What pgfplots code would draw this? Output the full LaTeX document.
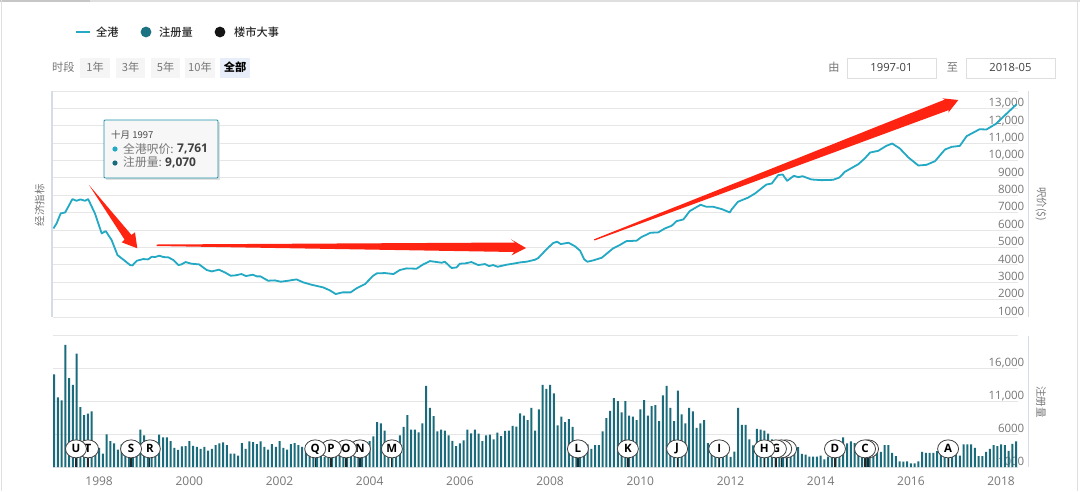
\documentclass[border=0pt]{standalone}
\usepackage{pgfplots}
\pgfplotsset{compat=1.18}
\usepackage{fontspec}
\usetikzlibrary{shapes.geometric}
\setmainfont{Open Sans}
\newfontfamily\cjk{Noto Sans CJK SC}
\newfontfamily\cjkm{Noto Sans CJK SC Medium}
\definecolor{lineC}{HTML}{23A9C4}
\definecolor{barC}{HTML}{1A6C7C}
\definecolor{gridC}{HTML}{E6E6E6}
\definecolor{axisC}{HTML}{D5DCE8}
\definecolor{txtC}{HTML}{777777}
\definecolor{arrC}{HTML}{FF2412}
\definecolor{selC}{HTML}{E7EEF9}
\begin{document}
\begin{tikzpicture}
\begin{scope}[x=1pt,y=-1pt]
\path[use as bounding box] (0,0) rectangle (1080,491);
\fill[white] (0,0) rectangle (1080,491);
\fill[gray!25] (0,0) rectangle (1080,2);
\fill[gray!45] (0,0) rectangle (90,2);
\draw[gray!25,line width=1pt] (1.5,0) -- (1.5,491);
\draw[gray!25,line width=1pt] (1077.5,0) -- (1077.5,491);
\end{scope}
% main chart
\begin{axis}[
 at={(53pt,-317pt)},anchor=south west,
 scale only axis,width=965pt,height=226pt,
 xmin=1996.98,xmax=2018.38,ymin=1000,ymax=14000,
 axis line style={draw=none},major tick length=0pt,
 xtick=\empty,scaled y ticks=false,scaled x ticks=false,
 ytick={1000,2000,3000,4000,5000,6000,7000,8000,9000,10000,11000,12000,13000,14000},
 yticklabels={1000,2000,3000,4000,5000,6000,7000,8000,9000,{10,000},{11,000},{12,000},{13,000},},
 ymajorgrids,grid style={gridC,line width=0.9pt},
 ticklabel pos=right,
 yticklabel style={anchor=east,inner sep=0pt,text height=8.5pt,text depth=0pt,xshift=6.5pt,yshift=6pt,font=\fontsize{11.5}{12}\selectfont,text=txtC},
]
\addplot[lineC,line width=1.8pt,line join=round] coordinates {
(1996.99,6096)(1997.06,6383)(1997.15,6958)(1997.25,7015)(1997.41,7782)(1997.50,7686)(1997.59,7763)(1997.69,7686)(1997.76,7782)(1997.91,6958)
(1998.06,5808)(1998.15,5943)(1998.28,5425)(1998.41,4563)(1998.58,4218)(1998.69,3988)(1998.74,3969)(1998.84,4237)(1998.98,4333)
(1999.09,4314)(1999.17,4467)(1999.24,4448)(1999.34,4525)(1999.43,4448)(1999.54,4429)(1999.65,4276)(1999.76,3988)(1999.83,4027)(1999.92,4161)
(2000.05,4065)(2000.22,4027)(2000.39,3701)(2000.50,3624)(2000.66,3720)(2000.79,3567)(2000.92,3375)
(2001.02,3394)(2001.16,3471)(2001.26,3356)(2001.41,3433)(2001.50,3337)(2001.58,3337)(2001.75,3088)(2001.90,3107)
(2002.03,3030)(2002.20,3088)(2002.38,3164)(2002.53,2992)(2002.71,2858)(2002.97,2704)
(2003.12,2532)(2003.25,2321)(2003.40,2417)(2003.58,2417)(2003.71,2647)(2003.90,2896)
(2004.08,3375)(2004.16,3509)(2004.34,3528)(2004.53,3471)(2004.67,3701)(2004.82,3797)
(2005.04,3777)(2005.19,4027)(2005.34,4218)(2005.49,4161)(2005.60,4122)(2005.67,4180)(2005.82,3816)(2005.93,3854)
(2006.00,4065)(2006.12,4084)(2006.26,4161)(2006.41,3988)(2006.56,4046)(2006.65,3931)(2006.74,3988)(2006.84,3892)
(2007.04,4008)(2007.22,4084)(2007.34,4142)(2007.48,4180)(2007.67,4295)(2007.74,4391)(2007.93,4908)
(2008.07,5253)(2008.16,5330)(2008.24,5195)(2008.41,5272)(2008.55,5080)(2008.67,4812)(2008.76,4314)(2008.83,4180)(2008.96,4257)
(2009.15,4410)(2009.40,4946)(2009.52,5099)(2009.70,5368)(2009.92,5387)
(2010.03,5598)(2010.23,5847)(2010.40,5866)(2010.55,6096)(2010.70,6249)(2010.81,6517)(2010.96,6613)
(2011.10,7092)(2011.34,7456)(2011.47,7341)(2011.62,7341)(2011.81,7207)(2011.99,7015)
(2012.03,7190)(2012.17,7630)(2012.39,7860)(2012.55,8110)(2012.80,8620)(2012.92,8680)
(2013.06,9160)(2013.16,9200)(2013.26,8833)(2013.41,9121)(2013.51,9044)(2013.60,9102)(2013.80,8910)
(2014.02,8872)(2014.28,8891)(2014.42,9025)(2014.54,9351)(2014.84,9791)(2014.98,10117)
(2015.10,10462)(2015.28,10558)(2015.46,10845)(2015.59,10979)(2015.76,10692)(2015.95,10175)
(2016.17,9715)(2016.35,9753)(2016.54,9964)(2016.76,10634)(2016.91,10788)
(2017.09,10845)(2017.24,11401)(2017.46,11707)(2017.53,11803)(2017.68,11784)(2017.90,12129)
(2018.13,12704)(2018.35,13240)
};
\end{axis}
% lower chart
\begin{axis}[
 at={(53pt,-467pt)},anchor=south west,
 scale only axis,width=965pt,height=132pt,
 xmin=0.73,xmax=257.5,ymin=1000,ymax=21000,
 axis line style={draw=none},major tick length=0pt,
 scaled y ticks=false,scaled x ticks=false,
 xtick={13,37,61,85,109,133,157,181,205,229,253},
 xticklabels={1998,2000,2002,2004,2006,2008,2010,2012,2014,2016,2018},
 xticklabel style={font=\fontsize{12}{12}\selectfont,text=txtC,yshift=-6.5pt},
 ytick={1000,6000,11000,16000,21000},
 yticklabels={1000,6000,{11,000},{16,000},},
 ymajorgrids,grid style={gridC,line width=0.9pt},
 ticklabel pos=right,
 xticklabel pos=bottom,
 yticklabel style={anchor=east,inner sep=0pt,text height=8.5pt,text depth=0pt,xshift=6.5pt,yshift=6pt,font=\fontsize{11.5}{12}\selectfont,text=txtC},
 clip=true,
]
\addplot[ybar,bar width=2pt,fill=barC,draw=none] coordinates {
(1,15025)(2,11557)(3,11098)(4,19513)(5,14464)(6,13444)(7,18187)(8,10078)(9,8854)(10,9070)(11,9415)(12,3142)
(13,3907)(14,3040)(15,5947)(16,4927)(17,4570)(18,3652)(19,4417)(20,4162)(21,3907)(22,4162)(23,4672)(24,6661)
(25,5794)(26,4417)(27,4162)(28,4927)(29,5896)(30,5488)(31,5488)(32,4927)(33,3907)(34,3601)(35,4111)(36,4162)
(37,4927)(38,4213)(39,4060)(40,3754)(41,4060)(42,3499)(43,3754)(44,4315)(45,4570)(46,4723)(47,4315)(48,3040)
(49,3040)(50,2734)(51,4621)(52,3754)(53,4876)(54,4774)(55,4468)(56,4876)(57,4060)(58,3652)(59,4468)(60,4060)
(61,4927)(62,3907)(63,3652)(64,4468)(65,4621)(66,4315)(67,4060)(68,3900)(69,3300)(70,3000)(71,3200)(72,2800)
(73,2500)(74,2900)(75,3100)(76,2700)(77,3000)(78,3200)(79,2900)(80,3300)(81,3400)(82,3600)(83,4200)(84,4400)
(85,4927)(86,5641)(87,7783)(88,7630)(89,6508)(90,4672)(91,4672)(92,4417)(93,5794)(94,7069)(95,8854)(96,6661)
(97,6661)(98,6253)(99,7630)(100,13291)(101,9976)(102,8701)(103,6406)(104,6661)(105,6508)(106,5794)(107,4978)(108,4162)
(109,4570)(110,5029)(111,6661)(112,6100)(113,6661)(114,6049)(115,4927)(116,5794)(117,5896)(118,5182)(119,6202)(120,5692)
(121,6457)(122,6508)(123,7222)(124,7120)(125,9109)(126,8803)(127,8089)(128,9976)(129,6508)(130,9721)(131,13444)(132,12832)
(133,13444)(134,12169)(135,7324)(136,8650)(137,7783)(138,8242)(139,7069)(140,4672)(141,4417)(142,4417)(143,4417)(144,3754)
(145,4315)(146,4315)(147,6406)(148,8395)(149,9517)(150,11455)(151,10996)(152,9262)(153,10996)(154,8803)(155,8650)(156,8089)
(157,9721)(158,11149)(159,8803)(160,10231)(161,10384)(162,7936)(163,11863)(164,13291)(165,9976)(166,7936)(167,12577)(168,8956)
(169,7630)(170,9976)(171,9415)(172,6916)(173,7630)(174,8089)(175,4621)(176,4417)(177,3652)(178,3652)(179,2632)(180,2887)
(181,2530)(182,3346)(183,9976)(184,7375)(185,7375)(186,5182)(187,4264)(188,6763)(189,6661)(190,6508)(191,6049)(192,5182)
(193,4672)(194,4162)(195,4162)(196,4162)(197,3907)(198,3652)(199,4009)(200,2989)(201,2887)(202,2581)(203,2581)(204,2581)
(205,2734)(206,2173)(207,2581)(208,2581)(209,2887)(210,2734)(211,5488)(212,4570)(213,4876)(214,4621)(215,3142)(216,2887)
(217,2632)(218,2734)(219,2887)(220,3142)(221,3295)(222,4315)(223,4315)(224,3142)(225,2632)(226,1867)(227,1816)(228,1867)
(229,1561)(230,1561)(231,1867)(232,3295)(233,3142)(234,3142)(235,3142)(236,3397)(237,3142)(238,2887)(239,2734)(240,2887)
(241,3040)(242,2734)(243,4417)(244,4417)(245,4417)(246,3907)(247,2632)(248,2632)(249,3295)(250,3754)(251,4315)(252,4162)
(253,4417)(254,4315)(255,3448)(256,4519)(257,4876)
};
% event flags: stems and labels (earlier events lie on top)
\addplot[ycomb,black!85,line width=1.2pt,mark=none] coordinates {
(6.85,3750)(10.05,3750)(21.5,3750)(26.5,3750)(70.5,3750)(74.7,3750)(78.7,3750)(82.4,3750)(90.9,3750)(140.4,3750)(153.7,3750)(166.8,3750)(178,3750)(190,3750)(193.1,3750)(194.5,3750)(195.8,3750)(208.8,3750)(216.8,3750)(217.6,3750)(238.9,3750)
};
\addplot[only marks,mark size=0pt,point meta=explicit symbolic,
 nodes near coords,
 nodes near coords style={anchor=center,shape=ellipse,draw=black!75,line width=0.8pt,fill=white,
   minimum width=21pt,minimum height=18pt,inner sep=0pt,font=\bfseries\fontsize{11.5}{11.5}\selectfont,text=black},
] table[x=x,y=y,meta=lab] {
x y lab
238.9 3750 A
217.6 3750 {}
216.8 3750 C
208.8 3750 D
195.8 3750 {}
194.5 3750 {}
193.1 3750 G
190 3750 H
178 3750 I
166.8 3750 J
153.7 3750 K
140.4 3750 L
90.9 3750 M
82.4 3750 N
78.7 3750 O
74.7 3750 P
70.5 3750 Q
26.5 3750 R
21.5 3750 S
10.05 3750 T
6.85 3750 U
};
\end{axis}
\begin{scope}[x=1pt,y=-1pt]
% axes lines
\draw[axisC,line width=1.5pt] (52.2,91) -- (52.2,317);
\draw[axisC,line width=1pt] (1028,91) -- (1028,317);
\draw[axisC,line width=1pt] (1028,336) -- (1028,467);
% axis titles
\node[rotate=90,text=txtC,font=\cjk\fontsize{10.5}{11}\selectfont] at (39.5,205) {经济指标};
\node[rotate=-90,text=txtC,font=\cjk\fontsize{10.5}{11}\selectfont] at (1041,204) {呎价(\$)};
\node[rotate=-90,text=txtC,font=\cjk\fontsize{10.5}{11}\selectfont] at (1041,402) {注册量};
% legend
\draw[lineC,line width=1.5pt] (76,32) -- (90,32);
\node[anchor=west,inner sep=0,text=black!85,font=\cjkm\fontsize{11.2}{12}\selectfont] at (96,32) {全港};
\fill[barC!90!lineC] (146,32) circle (5.4);
\node[anchor=west,inner sep=0,text=black!85,font=\cjkm\fontsize{11.2}{12}\selectfont] at (159,32) {注册量};
\fill[black!92] (220,32) circle (5.4);
\node[anchor=west,inner sep=0,text=black!85,font=\cjkm\fontsize{11.2}{12}\selectfont] at (234,32) {楼市大事};
% range buttons
\node[anchor=west,inner sep=0,text=txtC,font=\cjk\fontsize{11.2}{12}\selectfont] at (52,67.5) {时段};
\foreach \a/\b/\t in {80/110/1年,116/145/3年,151/180/5年,185/215/10年}{
 \fill[black!4] (\a,58) rectangle (\b,78);
 \node[text=txtC,inner sep=0,font=\cjk\fontsize{11.2}{12}\selectfont] at ({(\a+\b)/2},67) {\t};
}
\fill[selC] (220,58) rectangle (250,78);
\node[text=black,inner sep=0,font=\cjk\bfseries\fontsize{11.2}{12}\selectfont] at (235,67) {全部};
% date range
\node[text=txtC,inner sep=0,font=\cjk\fontsize{11.2}{12}\selectfont] at (834,67) {由};
\draw[black!13,line width=0.9pt] (847,58.5) rectangle (936,78);
\node[text=black!75,inner sep=0,font=\fontsize{11.2}{12}\selectfont] at (891.5,67.5) {1997-01};
\node[text=txtC,inner sep=0,font=\cjk\fontsize{11.2}{12}\selectfont] at (952.5,67) {至};
\draw[black!13,line width=0.9pt] (966,58.5) rectangle (1055,78);
\node[text=black!75,inner sep=0,font=\fontsize{11.2}{12}\selectfont] at (1010.5,67.5) {2018-05};
% red annotation arrows
\fill[arrC] (89,185) -- (131.5,235) -- (135,232.3) -- (137.3,248.3) -- (121.7,242.3) -- (124.5,239.5) -- cycle;
\fill[arrC] (156.7,244.5) -- (515,242.5) -- (511,239.3) -- (526,248) -- (511.7,255.3) -- (514,252) -- (156.7,246) -- cycle;
\fill[arrC] (594,239.3) -- (945,99.5) -- (942.3,98.3) -- (958.3,100) -- (948.3,112.7) -- (949,110) -- (594.5,240.5) -- cycle;
% tooltip
\fill[black!12] (105.5,121.5) rectangle (219.5,179.5);
\draw[lineC!85!black,fill=black!3,line width=0.8pt,rounded corners=1pt] (104,120) rectangle (218,178);
\node[anchor=west,inner sep=0,text=black!70,font=\cjk\fontsize{9.5}{10}\selectfont] at (111,134.5) {十月 1997};
\fill[lineC] (115,149) circle (2.6);
\node[anchor=west,inner sep=0,text=txtC,font=\cjk\fontsize{11.8}{12}\selectfont] at (123,148.5) {全港呎价:};
\node[anchor=west,inner sep=0,text=black!75,font=\bfseries\fontsize{12}{12}\selectfont] at (177,148.5) {7,761};
\fill[barC] (115,163) circle (2.6);
\node[anchor=west,inner sep=0,text=txtC,font=\cjk\fontsize{11.8}{12}\selectfont] at (123,162.5) {注册量:};
\node[anchor=west,inner sep=0,text=black!75,font=\bfseries\fontsize{12}{12}\selectfont] at (165,162.5) {9,070};
\end{scope}
\end{tikzpicture}
\end{document}
